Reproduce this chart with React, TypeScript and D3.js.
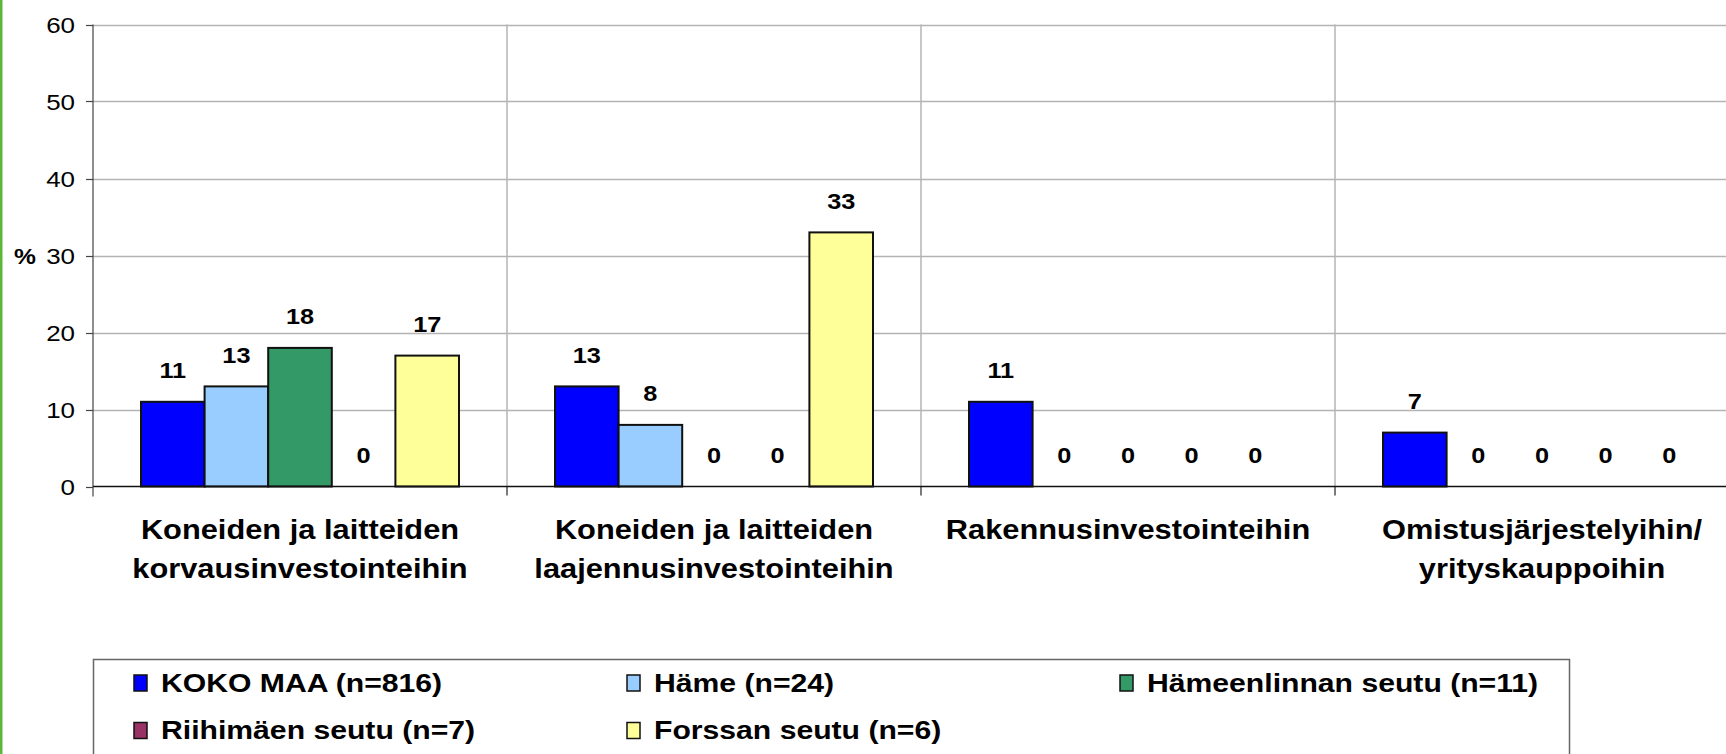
import React from "react";
import * as d3 from "d3";

const categories: string[][] = [
  ["Koneiden ja laitteiden", "korvausinvestointeihin"],
  ["Koneiden ja laitteiden", "laajennusinvestointeihin"],
  ["Rakennusinvestointeihin"],
  ["Omistusjärjestelyihin/", "yrityskauppoihin"],
];

const seriesNames = [
  "KOKO MAA (n=816)",
  "Häme (n=24)",
  "Hämeenlinnan seutu (n=11)",
  "Riihimäen seutu (n=7)",
  "Forssan seutu (n=6)",
];

const kokoMaa = [11, 13, 11, 7];
const hame = [13, 8, 0, 0];
const hameenlinna = [18, 0, 0, 0];
const riihimaki = [0, 0, 0, 0];
const forssa = [17, 33, 0, 0];

const seriesValues = [kokoMaa, hame, hameenlinna, riihimaki, forssa];
const seriesColors = ["#0000FF", "#99CCFF", "#339966", "#993366", "#FFFF99"];

const yTicks = [0, 10, 20, 30, 40, 50, 60];

const FONT = "'Liberation Sans', Arial, Helvetica, sans-serif";

export default function App() {
  const W = 1726;
  const H = 754;
  const x0 = 93;
  const catW = 414;
  const yBottom = 486.5;
  const yTop = 24.5;

  const xCat = d3
    .scaleBand<number>()
    .domain(categories.map((_, i) => i))
    .range([x0, x0 + catW * categories.length])
    .padding(0);

  const xSeries = d3
    .scaleBand<number>()
    .domain(seriesNames.map((_, i) => i))
    .range([48, catW - 48])
    .padding(0);

  const y = d3.scaleLinear().domain([0, 60]).range([yBottom, yTop]);

  const bounds = categories.map((_, i) => xCat(i)!).concat([x0 + catW * categories.length]);

  const legendCols = [134, 627, 1120];
  const legendRows = [691.5, 739];

  return (
    <svg
      width={W}
      height={H}
      style={{ position: "absolute", left: 0, top: 0, background: "#fff" }}
      fontFamily={FONT}
    >
      <rect x={0} y={0} width={W} height={H} fill="#ffffff" />
      {/* green left border */}
      <rect x={0} y={0} width={2.5} height={H} fill="#5DB83A" />

      {/* horizontal gridlines */}
      {yTicks
        .filter((t) => t > 0)
        .map((t) => (
          <line
            key={"g" + t}
            x1={x0}
            x2={bounds[bounds.length - 1]}
            y1={Math.round(y(t)) + 0.5}
            y2={Math.round(y(t)) + 0.5}
            stroke="#B4B4B4"
            strokeWidth={1.5}
          />
        ))}

      {/* vertical category dividers */}
      {bounds.slice(1).map((b, i) => (
        <g key={"d" + i}>
          <line x1={b} x2={b} y1={yTop} y2={yBottom} stroke="#B4B4B4" strokeWidth={1.5} />
          <line x1={b} x2={b} y1={yBottom} y2={yBottom + 9} stroke="#222" strokeWidth={1.2} />
        </g>
      ))}

      {/* bars */}
      {categories.map((_, ci) =>
        seriesValues.map((vals, si) => {
          const v = vals[ci];
          const bx = xCat(ci)! + xSeries(si)!;
          const bw = xSeries.bandwidth();
          return (
            <g key={`b${ci}-${si}`}>
              {v > 0 && (
                <rect
                  x={bx}
                  y={y(v)}
                  width={bw}
                  height={yBottom - y(v)}
                  fill={seriesColors[si]}
                  stroke="#111"
                  strokeWidth={2}
                />
              )}
              <text
                transform={`translate(${bx + bw / 2},${y(v) - 23.5}) scale(1.15,1)`}
                textAnchor="middle"
                fontSize={22}
                fontWeight="bold"
                fill="#000"
              >
                {v}
              </text>
            </g>
          );
        })
      )}

      {/* y axis */}
      <line x1={x0} x2={x0} y1={yTop} y2={yBottom + 10} stroke="#444" strokeWidth={1.2} />
      {yTicks.map((t) => (
        <g key={"t" + t}>
          <line x1={x0 - 7} x2={x0} y1={Math.round(y(t)) + 0.5} y2={Math.round(y(t)) + 0.5} stroke="#444" strokeWidth={1.2} />
          <text
            transform={`translate(75,${y(t) + 8}) scale(1.18,1)`}
            textAnchor="end"
            fontSize={22}
            fill="#000"
          >
            {t}
          </text>
        </g>
      ))}
      {/* x axis */}
      <line x1={x0} x2={bounds[bounds.length - 1]} y1={yBottom} y2={yBottom} stroke="#111" strokeWidth={1.5} />

      <text
        transform={`translate(25,${y(30) + 8}) scale(1.12,1)`}
        textAnchor="middle"
        fontSize={22}
        fontWeight="bold"
        fill="#000"
      >
        %
      </text>

      {/* category labels */}
      {categories.map((lines, ci) =>
        lines.map((ln, li) => (
          <text
            key={`c${ci}-${li}`}
            transform={`translate(${xCat(ci)! + catW / 2},${539 + li * 39}) scale(1.12,1)`}
            textAnchor="middle"
            fontSize={27.5}
            fontWeight="bold"
            fill="#000"
          >
            {ln}
          </text>
        ))
      )}

      {/* legend */}
      <rect x={93.5} y={659.5} width={1476} height={200} fill="#fff" stroke="#666" strokeWidth={1.5} />
      {seriesNames.map((name, si) => {
        const lx = legendCols[si % 3];
        const ly = legendRows[Math.floor(si / 3)];
        return (
          <g key={"l" + si}>
            <rect x={lx} y={ly - 16.5} width={13} height={16} fill={seriesColors[si]} stroke="#111" strokeWidth={1.5} />
            <text
              transform={`translate(${lx + 27},${ly}) scale(1.16,1)`}
              fontSize={26}
              fontWeight="bold"
              fill="#000"
            >
              {name}
            </text>
          </g>
        );
      })}
    </svg>
  );
}
